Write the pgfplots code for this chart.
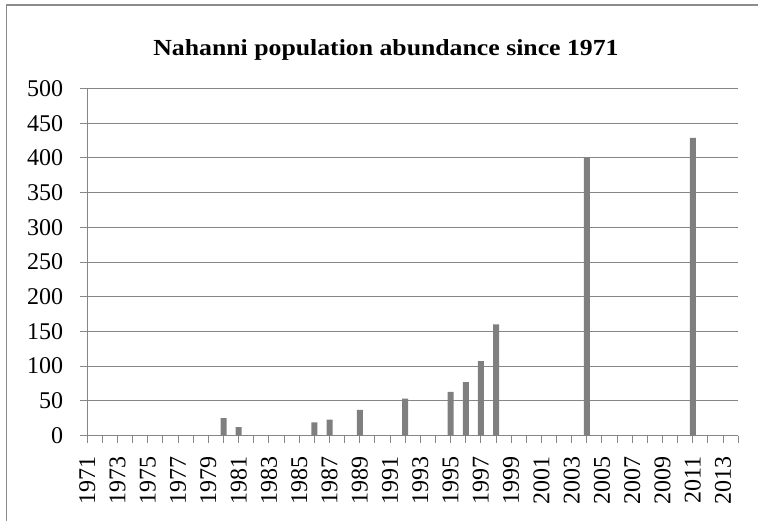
\documentclass[border=0pt]{standalone}
\usepackage{pgfplots}
\pgfplotsset{compat=1.18}
\usepackage{fontspec}
\usepackage{graphicx}
\setmainfont{Liberation Serif}
\definecolor{axgray}{HTML}{868686}
\definecolor{bargray}{HTML}{7F7F7F}
\definecolor{framegray}{HTML}{8C8C8C}
\begin{document}
\begin{tikzpicture}
\useasboundingbox (-87.3bp,-85.5bp) rectangle (670.7bp,435.5bp);
\begin{axis}[
  scale only axis,
  width=651bp, height=347bp,
  at={(0,0)}, anchor=south west,
  xmin=1971, xmax=2014,
  ymin=0, ymax=500,
  axis lines*=left,
  axis line style={axgray, line width=1bp},
  ytick={0,50,...,500},
  xtick={1971,...,2014},
  xticklabels={1971,,1973,,1975,,1977,,1979,,1981,,1983,,1985,,1987,,1989,,1991,,1993,,1995,,1997,,1999,,2001,,2003,,2005,,2007,,2009,,2011,,2013,},
  tick align=outside,
  major tick length=7bp,
  tick style={axgray, line width=1bp},
  ymajorgrids,
  major grid style={axgray, line width=1bp},
  /pgf/number format/assume math mode=true,
  /pgf/number format/1000 sep={},
  tick label style={font=\fontsize{24bp}{28bp}\selectfont, text=black},
  yticklabel style={inner sep=0pt, xshift=-17bp},
  xticklabel style={yshift=-14bp, rotate=90, anchor=east, inner sep=0pt},
  clip=false,
]
\addplot[ybar, bar width=6bp, fill=bargray, draw=none] coordinates {
  (1980,25) (1981,12) (1986,19) (1987,23) (1989,37) (1992,53)
  (1995,63) (1996,77) (1997,107) (1998,160) (2004,400) (2011,429)
};
\end{axis}
\node[font=\fontsize{23bp}{28bp}\selectfont\bfseries] at (298.7bp,385.5bp)
  {\scalebox{1.12}[1]{Nahanni population abundance since 1971}};
\draw[framegray, line width=1.5bp] (-80.8bp,-100bp) -- (-80.8bp,430.5bp) -- (700bp,430.5bp);
\end{tikzpicture}
\end{document}
